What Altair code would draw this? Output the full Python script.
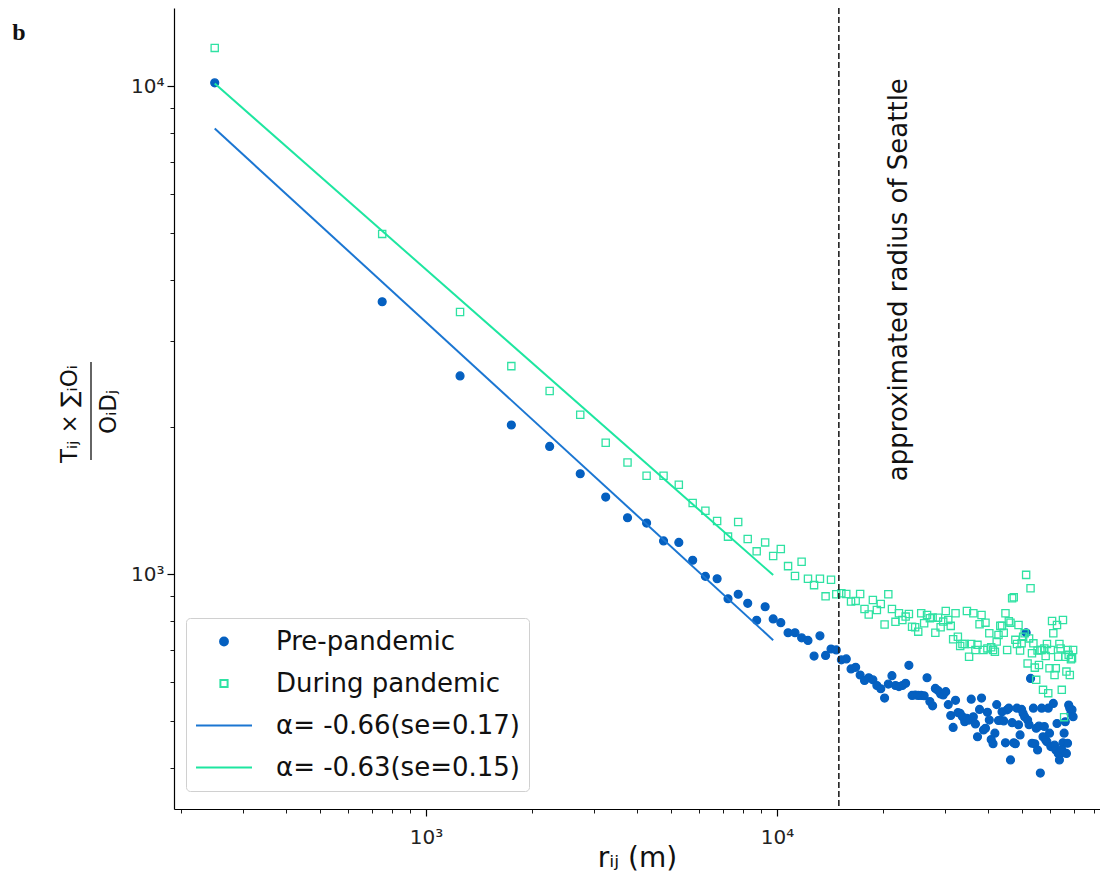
import altair as alt
import pandas as pd

# distance bins (m)
R_M = [250, 750, 1250, 1750, 2250, 2750, 3250, 3750, 4250, 4750,
       5250, 5750, 6250, 6750, 7250, 7750, 8250, 8750, 9250, 9750,
       10250, 10750, 11250, 11750, 12250, 12750, 13250, 13750, 14250, 14750,
       15250, 15750, 16250, 16750, 17250, 17750, 18250, 18750, 19250, 19750,
       20250, 20750, 21250, 21750, 22250, 22750, 23250, 23750, 24250, 24750,
       25250, 25750, 26250, 26750, 27250, 27750, 28250, 28750, 29250, 29750,
       30250, 30750, 31250, 31750, 32250, 32750, 33250, 33750, 34250, 34750,
       35250, 35750, 36250, 36750, 37250, 37750, 38250, 38750, 39250, 39750,
       40250, 40750, 41250, 41750, 42250, 42750, 43250, 43750, 44250, 44750,
       45250, 45750, 46250, 46750, 47250, 47750, 48250, 48750, 49250, 49750,
       50250, 50750, 51250, 51750, 52250, 52750, 53250, 53750, 54250, 54750,
       55250, 55750, 56250, 56750, 57250, 57750, 58250, 58750, 59250, 59750,
       60250, 60750, 61250, 61750, 62250, 62750, 63250, 63750, 64250, 64750,
       65250, 65750, 66250, 66750, 67250, 67750, 68250, 68750, 69250, 69750]

PRE = [10150, 3614, 2547, 2020, 1826, 1605, 1438, 1304, 1272, 1169,
       1161, 1067, 989, 978, 890, 909, 871, 804, 857, 809,
       795, 758, 758, 740, 731, 679, 747, 681, 702, 699,
       667, 670, 639, 644, 621, 605, 613, 607, 591, 582,
       557, 595, 619, 591, 588, 591, 597, 650, 564, 565,
       564, 564, 563, 613, 548, 537, 583, 577, 568, 565,
       574, 540, 513, 485, 551, 520, 518, 510, 498, 506,
       502, 554, 510, 493, 464, 528, 557, 479, 483, 521,
       502, 458, 449, 472, 540, 501, 502, 522, 500, 451,
       527, 531, 416, 496, 451, 449, 531, 491, 468, 528,
       518, 510, 758, 502, 491, 611, 450, 531, 449, 483,
       436, 488, 391, 531, 464, 487, 457, 453, 531, 472,
       443, 443, 543, 446, 436, 494, 429, 416, 429, 437,
       451, 472, 498, 429, 450, 539, 531, 518, 527, 510]

DURING = [11970, 4977, 3443, 2667, 2371, 2121, 1858, 1693, 1590, 1590,
          1524, 1398, 1348, 1284, 1193, 1278, 1180, 1113, 1161, 1089,
          1125, 1038, 991, 1060, 978, 949, 978, 900, 973, 909,
          913, 910, 878, 881, 910, 848, 826, 885, 844, 868,
          788, 909, 848, 798, 831, 805, 818, 828, 780, 778,
          762, 831, 793, 824, 812, 815, 758, 814, 778, 799,
          840, 805, 783, 735, 831, 744, 712, 719, 719, 840,
          677, 719, 831, 699, 716, 789, 824, 699, 795, 704,
          756, 708, 699, 693, 727, 750, 783, 783, 758, 831,
          699, 800, 795, 892, 896, 733, 719, 786, 697, 721,
          744, 756, 996, 656, 738, 935, 688, 721, 643, 607,
          697, 651, 699, 699, 579, 704, 679, 719, 570, 641,
          699, 801, 756, 621, 641, 786, 677, 719, 704, 579,
          805, 509, 677, 631, 699, 683, 621, 669, 672, 699]

FIT_R = [250, 9750]
FIT_PRE = [8180, 732]
FIT_DURING = [10120, 995]

SERIES = ["Pre-pandemic", "During pandemic",
          "α= -0.66(se=0.17)", "α= -0.63(se=0.15)"]

X_TICKS = [200, 300, 400, 500, 600, 700, 800, 900, 1000,
           2000, 3000, 4000, 5000, 6000, 7000, 8000, 9000, 10000,
           20000, 30000, 40000, 50000, 60000, 70000, 80000]
Y_TICKS = [400, 500, 600, 700, 800, 900, 1000,
           2000, 3000, 4000, 5000, 6000, 7000, 8000, 9000, 10000]

SEATTLE_R = [15000]
ANNOT_R = [22300]
ANNOT_V = [1550]
ANNOT_TEXT = ["approximated radius of Seattle"]

Y_NUM = "Tᵢⱼ × ∑ᵢOᵢ"
Y_DEN = "OᵢDⱼ"
X_TITLE = "rᵢⱼ (m)"
PANEL = "b"

PRE_C = "#0560c0"
DUR_C = "#2fe2a3"
PRE_LINE_C = "#1b76d2"
DUR_LINE_C = "#1ee6a0"

FONT = "DejaVu Sans"

pts = pd.DataFrame({
    "r": R_M + R_M,
    "v": PRE + DURING,
    "series": [SERIES[0]] * len(PRE) + [SERIES[1]] * len(DURING),
})
fit_pre = pd.DataFrame({"r": FIT_R, "v": FIT_PRE})
fit_dur = pd.DataFrame({"r": FIT_R, "v": FIT_DURING})
seattle = pd.DataFrame({"r": SEATTLE_R})
annot = pd.DataFrame({"r": ANNOT_R, "v": ANNOT_V, "text": ANNOT_TEXT})
one = pd.DataFrame({"k": [0]})

W, H = 926, 801
xscale = alt.Scale(type="log", domain=[191.4, 83200], nice=False)
yscale = alt.Scale(type="log", domain=[330, 14450], nice=False)

MAJOR = "datum.value == 1000 || datum.value == 10000"
LABELS = "datum.value == 1000 ? '10³' : (datum.value == 10000 ? '10⁴' : '')"


def log_axis(values, title, **kw):
    return alt.Axis(
        values=values, labelExpr=LABELS, grid=False,
        tickSize={"condition": {"test": MAJOR, "value": 7}, "value": 4},
        tickWidth={"condition": {"test": MAJOR, "value": 1.2}, "value": 0.9},
        tickColor="black", domainColor="black", domainWidth=1.2,
        labelFont=FONT, labelFontSize=20, labelColor="#222",
        labelOverlap=False, title=title, titleFont=FONT,
        titleFontWeight="normal", titleColor="#111", **kw)


x_axis = log_axis(X_TICKS, X_TITLE, labelPadding=11, titleFontSize=28,
                  titleBaseline="alphabetic", titleY=57)
y_axis = log_axis(Y_TICKS, "", labelPadding=3)

legend = alt.Legend(
    title="", orient="none", legendX=12, legendY=610, padding=9,
    strokeColor="#d0d0d0", fillColor="rgba(255,255,255,0.85)",
    cornerRadius=4, labelFont=FONT, labelFontSize=26, labelColor="#111",
    labelLimit=600, clipHeight=29, rowPadding=13, labelOffset=23,
    symbolStrokeWidth=2,
)

points = alt.Chart(pts).mark_point(opacity=1, strokeWidth=1.3).encode(
    x=alt.X("r:Q", scale=xscale, axis=x_axis),
    y=alt.Y("v:Q", scale=yscale, axis=y_axis),
    stroke=alt.Stroke("series:N", legend=legend, scale=alt.Scale(
        domain=SERIES, range=[PRE_C, DUR_C, PRE_LINE_C, DUR_LINE_C])),
    fill=alt.Fill("series:N", legend=legend, scale=alt.Scale(
        domain=SERIES, range=[PRE_C, "transparent", "transparent", "transparent"])),
    shape=alt.Shape("series:N", legend=legend, scale=alt.Scale(
        domain=SERIES, range=["circle", "square", "stroke", "stroke"])),
    size=alt.Size("series:N", legend=legend, scale=alt.Scale(
        type="ordinal", domain=SERIES, range=[62, 52, 3136, 3136])),
)

line_pre = alt.Chart(fit_pre).mark_line(color=PRE_LINE_C, strokeWidth=2).encode(
    x="r:Q", y="v:Q")
line_dur = alt.Chart(fit_dur).mark_line(color=DUR_LINE_C, strokeWidth=2).encode(
    x="r:Q", y="v:Q")

rule = alt.Chart(seattle).mark_rule(
    color="#222", strokeWidth=1.6, strokeDash=[6, 3]).encode(x="r:Q")

annot_text = alt.Chart(annot).mark_text(
    angle=270, align="left", baseline="middle", font=FONT, fontSize=26,
    color="#111").encode(x="r:Q", y="v:Q", text="text:N")

y_num = alt.Chart(one).mark_text(
    text=Y_NUM, angle=270, align="center", baseline="middle", font=FONT,
    fontSize=23, color="#111").encode(x=alt.value(-104), y=alt.value(406))
y_den = alt.Chart(one).mark_text(
    text=Y_DEN, angle=270, align="center", baseline="middle", font=FONT,
    fontSize=23, color="#111").encode(x=alt.value(-65), y=alt.value(404))
y_bar = alt.Chart(one).mark_rule(color="#111", strokeWidth=1.3).encode(
    x=alt.value(-83), y=alt.value(354), y2=alt.value(452))

panel = alt.Chart(one).mark_text(
    text=PANEL, font="Liberation Serif", fontWeight="bold", fontSize=24,
    color="#111", baseline="middle", align="center").encode(
    x=alt.value(-155), y=alt.value(25))

chart = alt.layer(
    points, line_pre, line_dur, rule, annot_text, y_num, y_den, y_bar, panel
).properties(
    width=W, height=H,
    autosize=alt.AutoSizeParams(type="none"),
    padding={"left": 166, "top": 0, "right": 0, "bottom": 66},
    background="white",
).configure_view(strokeWidth=0)

chart.save("out.html", embed_options={"renderer": "svg", "actions": False})
